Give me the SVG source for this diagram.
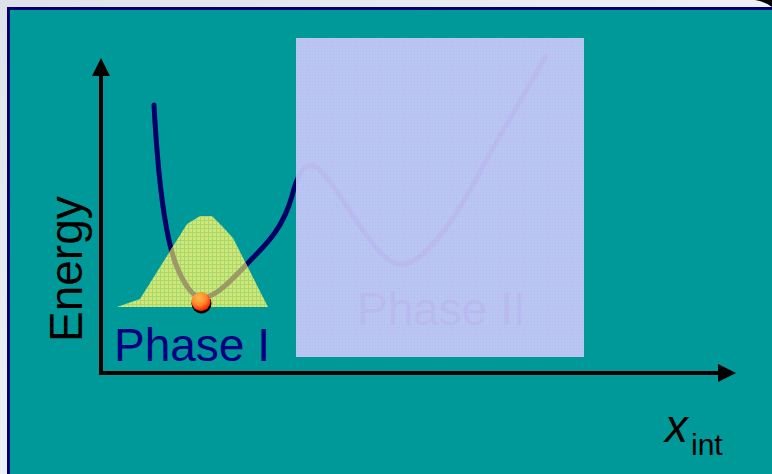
<svg xmlns="http://www.w3.org/2000/svg" width="772" height="474" viewBox="0 0 772 474">
  <defs>
    <linearGradient id="bg" x1="0" y1="0" x2="1" y2="1">
      <stop offset="0" stop-color="#dde3e8"/>
      <stop offset="1" stop-color="#ffffff"/>
    </linearGradient>
    <pattern id="lav" width="3" height="3" patternUnits="userSpaceOnUse">
      <rect width="3" height="3" fill="#cbc7fb"/>
      <rect width="1" height="1" fill="#a4cdf0"/>
    </pattern>
    <pattern id="yel" width="4" height="4" patternUnits="userSpaceOnUse">
      <rect width="4" height="4" fill="#e2ee72"/>
      <rect width="1" height="4" fill="#b4dc6c"/>
      <rect width="4" height="1" fill="#b4dc6c"/>
    </pattern>
    <radialGradient id="ball" cx="0.4" cy="0.3" r="0.7">
      <stop offset="0" stop-color="#ffb84a"/>
      <stop offset="0.55" stop-color="#ff8a2a"/>
      <stop offset="1" stop-color="#ff1a00"/>
    </radialGradient>
    <clipPath id="mtn">
      <polygon points="117,307 140,299 187,224 200,216 212,216 222,226 233,238 268,307"/>
    </clipPath>
    <marker id="arr" viewBox="0 0 18 18" refX="0" refY="9" markerWidth="18" markerHeight="18" markerUnits="userSpaceOnUse" orient="auto">
      <path d="M0,0 L18,9 L0,18 Z" fill="#000"/>
    </marker>
    <style>
      .lbl { font-family: "Liberation Sans", Arial, sans-serif; }
      .axis { stroke: #000; stroke-width: 4; fill: none; }
    </style>
  </defs>

  <rect x="0" y="0" width="772" height="474" fill="url(#bg)"/>
  <path d="M755,0 Q766,2 772,7 L772,0 Z" fill="#000"/>
  <rect x="8.5" y="8.5" width="770" height="470" fill="#009999" stroke="#000070" stroke-width="3"/>

  <g id="curve">
    <path id="pes" d="M154,105 C157,160 162,225 175,262 C183,283 192,298 203,298 C215,297 230,282 247,264 C262,248 282,232 292,196 C296,180 302,165 311,165 C325,166 350,215 370,240 C385,260 395,266 405,264 C430,258 460,210 480,172 C505,125 525,95 545,57" fill="none" stroke="#000066" stroke-width="5" stroke-linecap="round"/>
    <text class="lbl" x="357" y="325" font-size="46" fill="#000066">Phase II</text>
  </g>

  <g id="phase2">
    <rect x="296" y="38" width="288" height="319" fill="url(#lav)" opacity="0.93"/>
  </g>

  <g id="distribution">
    <polygon points="117,307 140,299 187,224 200,216 212,216 222,226 233,238 268,307" fill="url(#yel)" opacity="0.92"/>
    <path d="M154,105 C157,160 162,225 175,262 C183,283 192,298 203,298 C215,297 230,282 247,264" fill="none" stroke="#9c9868" stroke-width="5" clip-path="url(#mtn)"/>
  </g>

  <g id="ball-node">
    <circle cx="201.5" cy="303.5" r="10" fill="#000"/>
    <circle cx="201" cy="301.5" r="9.5" fill="url(#ball)"/>
  </g>

  <g id="connectors">
    <line class="axis" x1="101" y1="375" x2="101" y2="76" marker-end="url(#arr)"/>
    <line class="axis" x1="99" y1="373" x2="718" y2="373" marker-end="url(#arr)"/>
  </g>

  <g id="phase1-label">
    <text class="lbl" x="114" y="361" font-size="46" fill="#000080">Phase I</text>
  </g>

  <g id="y-label">
    <text class="lbl" transform="translate(82,342) rotate(-90)" font-size="46" fill="#000">Energy</text>
  </g>

  <g id="x-label">
    <text class="lbl" x="665" y="442" font-size="46" font-style="italic" fill="#000">x</text>
    <text class="lbl" x="691" y="455" font-size="30" fill="#000">int</text>
  </g>
</svg>
